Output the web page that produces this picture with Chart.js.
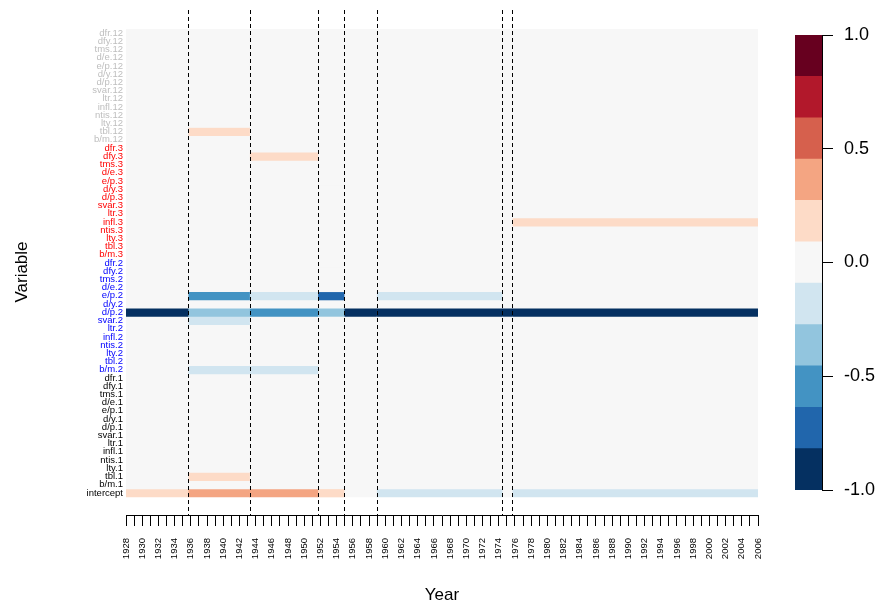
<!DOCTYPE html>
<html>
<head>
<meta charset="utf-8">
<script src="https://cdn.jsdelivr.net/npm/chart.js@4.4.0/dist/chart.umd.min.js"></script>
<style>
  body { margin: 0; background: #fff; }
  #wrap { position: relative; width: 879px; height: 603px; }
  #heat { position: absolute; left: 0; top: 0; }
  #key { position: absolute; left: 795px; top: 0; }
</style>
</head>
<body>
<div id="wrap">
  <canvas id="heat" width="879" height="603"></canvas>
  <canvas id="key" width="84" height="603"></canvas>
</div>
<script>
// sample span and estimated break dates
const yearRange = [1928, 2006];
const breaks = [1935.667, 1943.25, 1951.667, 1954.917, 1958.917, 1974.417, 1975.667];

// predictors, bottom to top inside each lag block
const predictors = ['b/m', 'tbl', 'lty', 'ntis', 'infl', 'ltr', 'svar', 'd/p', 'd/y', 'e/p', 'd/e', 'tms', 'dfy', 'dfr'];
const lags = ['1', '2', '3', '12'];
const lagColors = ['#000000', '#0000ff', '#ff0000', '#bebebe'];

// coefficient per regime (8 regimes), rows not listed are 0
const coefIntercept = [0.18, 0.36, 0.36, 0.18, 0, -0.18, 0, -0.18];
const coefTbl1 = [0, 0.18, 0, 0, 0, 0, 0, 0];
const coefBm2 = [0, -0.18, -0.18, 0, 0, 0, 0, 0];
const coefSvar2 = [0, -0.18, 0, 0, 0, 0, 0, 0];
const coefDp2 = [-0.91, -0.36, -0.55, -0.36, -0.91, -0.91, -0.91, -0.91];
const coefEp2 = [0, -0.55, -0.18, -0.73, 0, -0.18, 0, 0];
const coefInfl3 = [0, 0, 0, 0, 0, 0, 0, 0.18];
const coefDfy3 = [0, 0, 0.18, 0, 0, 0, 0, 0];
const coefTbl12 = [0, 0.18, 0, 0, 0, 0, 0, 0];

// RdBu, 11 classes from -1 to 1
const palette = ['#053061', '#2166ac', '#4393c3', '#92c5de', '#d1e5f0', '#f7f7f7',
                 '#fddbc7', '#f4a582', '#d6604d', '#b2182b', '#67001f'];
const keyTicks = [-1, -0.5, 0, 0.5, 1];

var variables = ['intercept'];
lags.forEach(function (l) {
  predictors.forEach(function (p) { variables.push(p + '.' + l); });
});

var coefByVar = {
  'intercept': coefIntercept, 'tbl.1': coefTbl1, 'b/m.2': coefBm2, 'svar.2': coefSvar2,
  'd/p.2': coefDp2, 'e/p.2': coefEp2, 'infl.3': coefInfl3, 'dfy.3': coefDfy3, 'tbl.12': coefTbl12
};

function coefOf(v, p) {
  return coefByVar[v] ? coefByVar[v][p] : 0;
}

function binColor(val) {
  var k = Math.floor((val + 1) / (2 / palette.length));
  k = Math.max(0, Math.min(palette.length - 1, k));
  return palette[k];
}

function labelColor(v) {
  if (!v || v === 'intercept') return '#000000';
  var lag = v.split('.').pop();
  return lagColors[lags.indexOf(lag)];
}

Chart.defaults.font.family = '"Liberation Sans", Arial, sans-serif';
Chart.defaults.color = '#000';

var starts = [yearRange[0]].concat(breaks);
var ends = breaks.concat([yearRange[1]]);

var datasets = starts.map(function (s, p) {
  return {
    data: variables.map(function (v, i) { return { x: [s, ends[p]], y: i }; }),
    backgroundColor: variables.map(function (v) { return binColor(coefOf(v, p)); }),
    grouped: false,
    barPercentage: 1,
    categoryPercentage: 1,
    borderWidth: 0
  };
});

// grey panel behind the cells and dashed break lines
var panelPlugin = {
  id: 'panel',
  beforeDatasetsDraw: function (chart) {
    var ctx = chart.ctx, xs = chart.scales.x, ys = chart.scales.y;
    var top = ys.getPixelForValue(variables.length - 0.5);
    var bot = ys.getPixelForValue(-0.5);
    ctx.save();
    ctx.fillStyle = palette[5];
    ctx.fillRect(xs.left, top, xs.right - xs.left, bot - top);
    ctx.restore();
  },
  afterDatasetsDraw: function (chart) {
    var ctx = chart.ctx, xs = chart.scales.x;
    ctx.save();
    ctx.strokeStyle = '#000';
    ctx.lineWidth = 1;
    ctx.setLineDash([4, 3]);
    breaks.forEach(function (b) {
      var x = Math.round(xs.getPixelForValue(b)) + 0.5;
      ctx.beginPath();
      ctx.moveTo(x, chart.chartArea.top - 19);
      ctx.lineTo(x, chart.chartArea.bottom);
      ctx.stroke();
    });
    ctx.restore();
  }
};

new Chart(document.getElementById('heat'), {
  type: 'bar',
  data: { datasets: datasets },
  plugins: [panelPlugin],
  options: {
    responsive: false,
    animation: false,
    indexAxis: 'y',
    layout: { padding: { top: 29, right: 121, left: 0, bottom: 0 } },
    plugins: { legend: { display: false }, tooltip: { enabled: false } },
    scales: {
      x: {
        type: 'linear',
        min: yearRange[0],
        max: yearRange[1],
        afterFit: function (scale) { scale.height = 88; },
        border: { display: true, color: '#000', width: 1 },
        grid: { drawOnChartArea: false, drawTicks: true, tickLength: 11, color: '#000' },
        ticks: {
          stepSize: 1,
          maxTicksLimit: 200,
          autoSkip: false,
          minRotation: 90,
          maxRotation: 90,
          padding: 12,
          font: { size: 9.5 },
          callback: function (v) { return v % 2 === 0 ? String(v) : ''; }
        },
        title: { display: true, text: 'Year', font: { size: 17 }, padding: { top: 0, bottom: -3 } }
      },
      y: {
        type: 'linear',
        offset: false,
        min: -2.69,
        max: variables.length - 0.5,
        afterFit: function (scale) { scale.width = 126; },
        afterBuildTicks: function (scale) {
          scale.ticks = variables.map(function (v, i) { return { value: i }; });
        },
        border: { display: false },
        grid: { display: false, drawTicks: false },
        ticks: {
          autoSkip: false,
          padding: 3,
          font: { size: 9.5, lineHeight: 1 },
          color: function (c) { return labelColor(variables[c.tick.value]); },
          callback: function (v) { return variables[v]; }
        },
        title: { display: true, text: 'Variable', font: { size: 17 }, padding: { top: 12, bottom: 0 } }
      }
    }
  }
});

// colour key
var keyData = palette.map(function (c, k) {
  var lo = -1 + k * 2 / palette.length;
  return {
    data: [[lo, lo + 2 / palette.length]],
    backgroundColor: c,
    grouped: false,
    barPercentage: 1,
    categoryPercentage: 1,
    borderWidth: 0
  };
});

new Chart(document.getElementById('key'), {
  type: 'bar',
  data: { labels: [''], datasets: keyData },
  options: {
    responsive: false,
    animation: false,
    layout: { padding: { top: 35, bottom: 113, left: 0, right: 0 } },
    plugins: { legend: { display: false }, tooltip: { enabled: false } },
    scales: {
      x: { display: false },
      y: {
        position: 'right',
        min: -1,
        max: 1,
        afterFit: function (scale) { scale.width = 57; },
        afterBuildTicks: function (scale) {
          scale.ticks = keyTicks.map(function (t) { return { value: t }; });
        },
        border: { display: true, color: '#000', width: 1 },
        grid: { drawOnChartArea: false, drawTicks: true, tickLength: 11, color: '#000' },
        ticks: {
          padding: 11,
          font: { size: 18 },
          callback: function (v) { return v.toFixed(1); }
        }
      }
    }
  }
});
</script>
</body>
</html>
